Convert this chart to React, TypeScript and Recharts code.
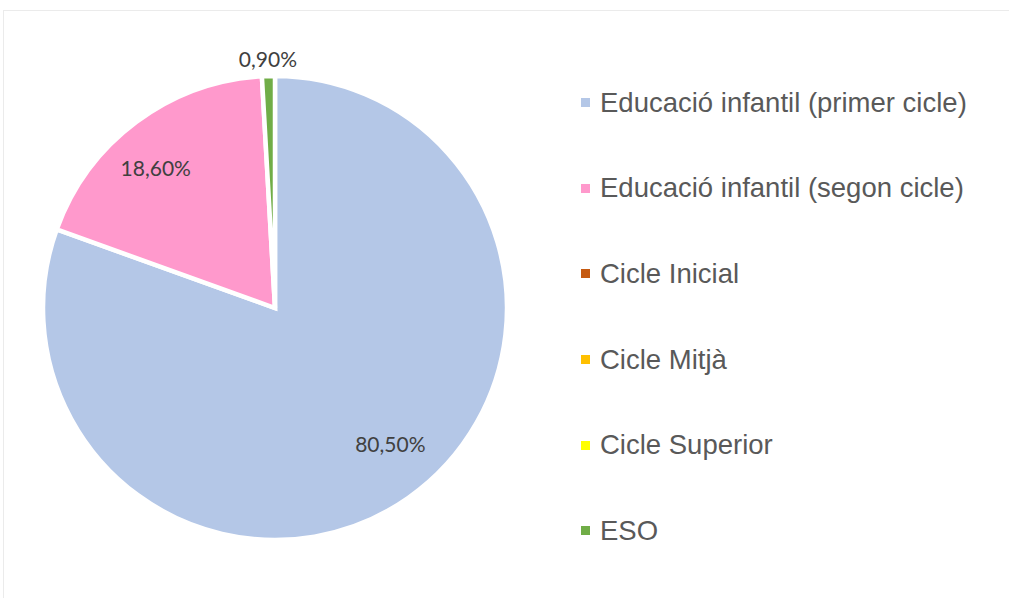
import React from "react";
import { PieChart, Pie, Cell, Legend } from "recharts";

const categories = [
  "Educació infantil (primer cicle)",
  "Educació infantil (segon cicle)",
  "Cicle Inicial",
  "Cicle Mitjà",
  "Cicle Superior",
  "ESO",
];
const values = [80.5, 18.6, 0, 0, 0, 0.9];
const colors = ["#B4C7E7", "#FF99CC", "#C55A11", "#FFC000", "#FFFF00", "#70AD47"];

const data = categories.map((name, i) => ({ name, value: values[i] }));

const RAD = Math.PI / 180;

const fmt = (v: number) => v.toFixed(2).replace(".", ",") + "%";

const renderLabel = (props: any) => {
  const { cx, cy, midAngle, outerRadius, value, index } = props;
  if (!value) return null;
  const inside = value >= 5;
  const r = inside ? outerRadius * 0.78 : outerRadius + 18;
  const a = inside ? midAngle + 4.5 : midAngle;
  const x = cx + r * Math.cos(-a * RAD);
  const y = cy + r * Math.sin(-a * RAD);
  return (
    <text
      key={"lbl" + index}
      x={x}
      y={y}
      dy={inside ? -4 : 0}
      textAnchor="middle"
      dominantBaseline="central"
      fill="#404040"
      fontFamily="Lato, 'Open Sans', sans-serif"
      fontSize={21}
    >
      {fmt(value)}
    </text>
  );
};

const renderLegend = (props: any) => {
  const payload = [...(props.payload || [])].sort(
    (a: any, b: any) => categories.indexOf(a.value) - categories.indexOf(b.value)
  );
  return (
    <div>
      {payload.map((entry: any, i: number) => (
        <div
          key={"leg" + i}
          style={{
            height: 85.6,
            display: "flex",
            alignItems: "center",
            fontFamily: "'Liberation Sans', Arial, sans-serif",
            fontSize: 27.5,
            color: "#595959",
            whiteSpace: "nowrap",
          }}
        >
          <span
            style={{
              display: "inline-block",
              width: 9,
              height: 9,
              background: entry.color,
              marginRight: 10,
            }}
          />
          <span>{entry.value}</span>
        </div>
      ))}
    </div>
  );
};

export default function App() {
  return (
    <div style={{ position: "absolute", left: 0, top: 0, width: 1009, height: 598, background: "#fff", overflow: "hidden" }}>
      <div
        style={{
          position: "absolute",
          left: 3,
          top: 10,
          width: 1020,
          height: 600,
          border: "1px solid #EBEBEB",
        }}
      />
      <div style={{ position: "absolute", left: 0, top: 0 }}>
        <PieChart width={1009} height={598} margin={{ top: 0, right: 0, bottom: 0, left: 0 }}>
          <Pie
            data={data}
            dataKey="value"
            nameKey="name"
            cx={275}
            cy={308}
            outerRadius={232}
            startAngle={90}
            endAngle={-270}
            stroke="#FFFFFF"
            strokeWidth={4.5}
            label={renderLabel}
            labelLine={false}
            isAnimationActive={false}
          >
            {data.map((d, i) => (
              <Cell key={d.name} fill={colors[i]} />
            ))}
          </Pie>
          <Legend
            layout="vertical"
            align="right"
            verticalAlign="top"
            content={renderLegend}
            wrapperStyle={{ left: 581, top: 60, width: 428 }}
          />
        </PieChart>
      </div>
    </div>
  );
}
